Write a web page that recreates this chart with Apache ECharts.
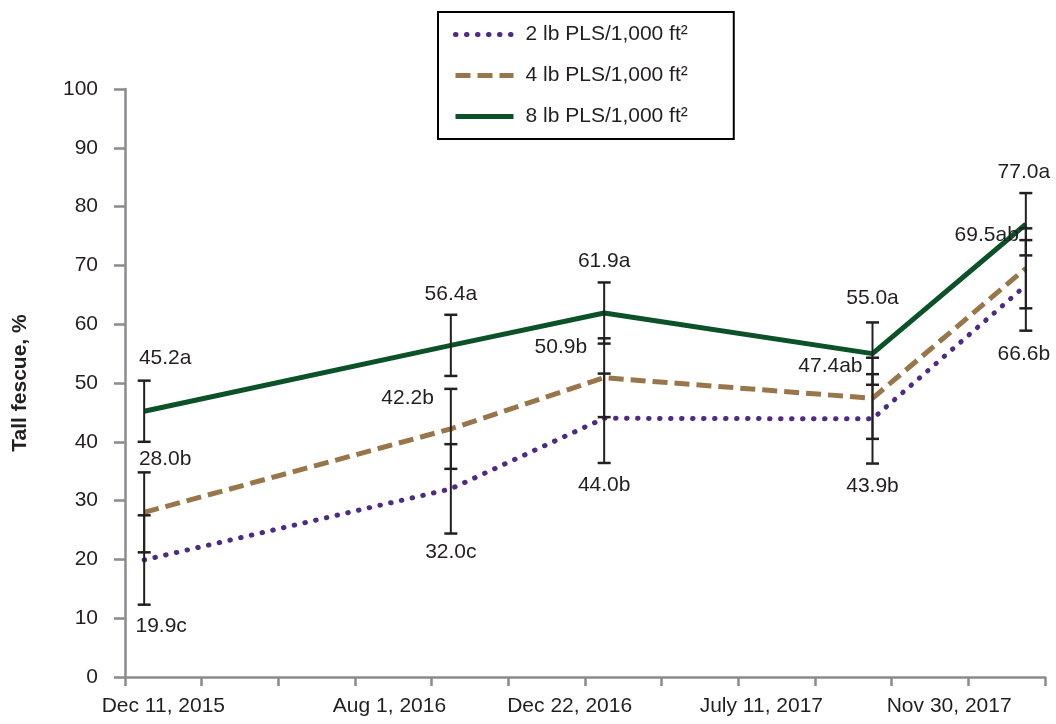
<!DOCTYPE html>
<html><head><meta charset="utf-8">
<script src="https://cdn.jsdelivr.net/npm/echarts@6/dist/echarts.min.js"></script>
<style>html,body{margin:0;padding:0;background:#fff}#c{width:1056px;height:724px}</style>
</head><body><div id="c"></div>
<script>
// ---- data ----
const seriesNames = ['2 lb PLS/1,000 ft²', '4 lb PLS/1,000 ft²', '8 lb PLS/1,000 ft²'];
const sampleMonth = [0.5, 8.5, 12.5, 19.5, 23.5]; // months after Dec 1, 2015
const mean2lb = [19.9, 32.0, 44.0, 43.9, 66.6];
const mean4lb = [28.0, 42.2, 50.9, 47.4, 69.5];
const mean8lb = [45.2, 56.4, 61.9, 55.0, 77.0];
const err2lb = [7.6, 7.6, 7.6, 7.6, 7.7];
const err4lb = [6.8, 6.8, 6.7, 6.9, 6.8];
const err8lb = [5.2, 5.2, 5.2, 5.3, 5.3];
const letters2lb = ['c', 'c', 'b', 'b', 'b'];
const letters4lb = ['b', 'b', 'b', 'ab', 'ab'];
const letters8lb = ['a', 'a', 'a', 'a', 'a'];
const xTickLabels = ['Dec 11, 2015', 'Aug 1, 2016', 'Dec 22, 2016', 'July 11, 2017', 'Nov 30, 2017'];
const xTickLabelAt = [1, 6.9, 11.6, 16.6, 21.5];
const xTickAt = [0, 2, 4, 6, 8, 10, 12, 14, 16, 18, 20, 22, 24];
const yAxisTitle = 'Tall fescue, %';

// ---- styling ----
const FONT = '"Liberation Sans", Arial, sans-serif';
const TEXT = '#231f20';
const AXIS = '#8a8b8d';
const colors = ['#4e2a84', '#98764a', '#0b5228'];
const lineStyles = [
  { width: 5, type: [0.5, 10.5], cap: 'round' },
  { width: 5, type: [15, 7], cap: 'butt' },
  { width: 5, type: 'solid', cap: 'butt' }
];
const means = [mean2lb, mean4lb, mean8lb];
const errs = [err2lb, err4lb, err8lb];
const letters = [letters2lb, letters4lb, letters8lb];
// label placement relative to whisker ends / mean point (pixels)
const labelLayout = [
  [{ref: 'low', dx: 17, dy: 22}, {ref: 'low', dx: 0, dy: 19}, {ref: 'low', dx: 0, dy: 22}, {ref: 'low', dx: 0, dy: 23}, {ref: 'low', dx: -2, dy: 24}],
  [{ref: 'mid', dx: 21, dy: -53}, {ref: 'mid', dx: -17, dy: -31, align: 'right'}, {ref: 'mid', dx: -17, dy: -31, align: 'right'}, {ref: 'mid', dx: -10, dy: -32, align: 'right'}, {ref: 'mid', dx: -7, dy: -33, align: 'right'}],
  [{ref: 'high', dx: 21, dy: -22}, {ref: 'high', dx: 0, dy: -21}, {ref: 'high', dx: 0, dy: -21}, {ref: 'high', dx: 0, dy: -24}, {ref: 'high', dx: -2, dy: -21}]
];

const lineSeries = seriesNames.map((name, si) => ({
  name, type: 'line', symbol: 'none', z: 3,
  data: sampleMonth.map((m, i) => [m, means[si][i]]),
  lineStyle: { color: colors[si], width: lineStyles[si].width, type: lineStyles[si].type, cap: lineStyles[si].cap },
  itemStyle: { color: colors[si] },
  emphasis: { disabled: true }
}));

const errSeries = seriesNames.map((name, si) => ({
  type: 'custom', name: 'err' + si, z: 5, silent: true, clip: false,
  data: sampleMonth.map((m, i) => [m, means[si][i], errs[si][i], i]),
  encode: { x: 0, y: 1 },
  renderItem(params, api) {
    const x = api.value(0), y = api.value(1), e = api.value(2), i = api.value(3);
    const p = api.coord([x, y]), hi = api.coord([x, y + e]), lo = api.coord([x, y - e]);
    const hw = 6.5;
    const st = { stroke: TEXT, lineWidth: 2 };
    const L = labelLayout[si][i];
    const ref = L.ref === 'low' ? lo : L.ref === 'high' ? hi : p;
    const align = L.align || 'center';
    return {
      type: 'group',
      children: [
        { type: 'line', shape: { x1: p[0], y1: hi[1], x2: p[0], y2: lo[1] }, style: st },
        { type: 'line', shape: { x1: p[0] - hw, y1: hi[1], x2: p[0] + hw, y2: hi[1] }, style: { stroke: TEXT, lineWidth: 2.5 } },
        { type: 'line', shape: { x1: p[0] - hw, y1: lo[1], x2: p[0] + hw, y2: lo[1] }, style: { stroke: TEXT, lineWidth: 2.5 } },
        { type: 'text', x: ref[0] + L.dx, y: ref[1] + L.dy,
          style: { text: means[si][i].toFixed(1) + letters[si][i], fill: TEXT,
                   font: '21px ' + FONT, align: align, verticalAlign: 'middle' } }
      ]
    };
  }
}));

const chart = echarts.init(document.getElementById('c'), null, { renderer: 'canvas' });
chart.setOption({
  backgroundColor: '#fff',
  animation: false,
  grid: { left: 125, right: 11, top: 89, bottom: 47, outerBoundsMode: 'none', containLabel: false },
  legend: {
    data: seriesNames.map((n, si) => ({ name: n, lineStyle: { width: 5, color: colors[si], type: lineStyles[si].type, cap: lineStyles[si].cap } })),
    orient: 'vertical', left: 438, top: 12,
    padding: [12, 46, 12, 15], itemGap: 20, itemWidth: 58, itemHeight: 14,
    borderColor: '#000', borderWidth: 2, selectedMode: false,
    itemStyle: { opacity: 0 },
    textStyle: { fontFamily: FONT, fontSize: 21, color: TEXT, lineHeight: 21, padding: [0, 0, 0, 7] }
  },
  xAxis: {
    type: 'value', min: 0, max: 24, interval: 2,
    splitLine: { show: false },
    axisLine: { lineStyle: { color: AXIS, width: 2.5 } },
    axisTick: { show: true, length: 9, lineStyle: { color: AXIS, width: 2.5 }, customValues: xTickAt },
    axisLabel: {
      customValues: xTickLabelAt, margin: 19, fontFamily: FONT, fontSize: 21, color: TEXT,
      formatter: v => { const k = xTickLabelAt.findIndex(a => Math.abs(a - v) < 1e-6); return k >= 0 ? xTickLabels[k] : ''; }
    }
  },
  yAxis: {
    type: 'value', min: 0, max: 100, interval: 10,
    name: yAxisTitle, nameLocation: 'middle', nameRotate: 90, nameGap: 94,
    nameTextStyle: { fontFamily: FONT, fontSize: 21, fontWeight: 'bold', color: TEXT },
    splitLine: { show: false },
    axisLine: { show: true, lineStyle: { color: AXIS, width: 2.5 } },
    axisTick: { show: true, length: 11, lineStyle: { color: AXIS, width: 2.5 } },
    axisLabel: { margin: 27, fontFamily: FONT, fontSize: 21, color: TEXT }
  },
  series: [...lineSeries, ...errSeries]
});
</script></body></html>
